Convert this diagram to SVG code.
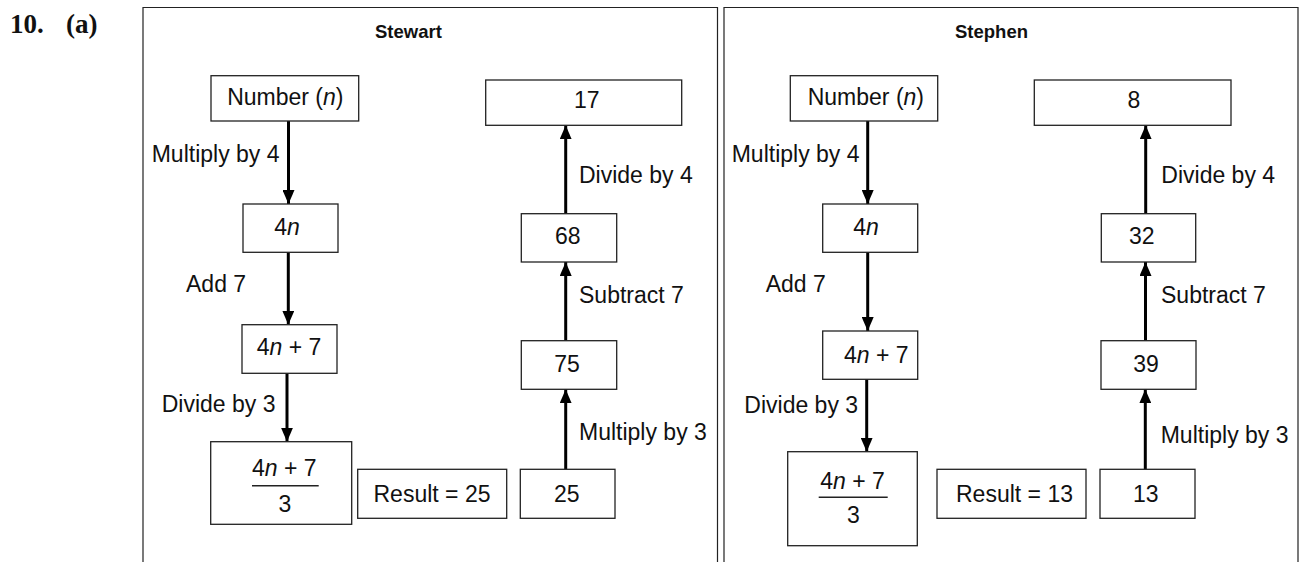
<svg xmlns="http://www.w3.org/2000/svg" width="1302" height="562" viewBox="0 0 1302 562">
  <style>
    .frame { fill: none; stroke: #222; stroke-width: 1.2; }
    .box { fill: #fff; stroke: #222; stroke-width: 1.3; }
    .t { font-family: "Liberation Sans", Arial, sans-serif; font-size: 23px; fill: #111; }
    .c { text-anchor: middle; }
    .title { font-family: "Liberation Sans", Arial, sans-serif; font-size: 18.5px; font-weight: bold; fill: #111; }
    .q { font-family: "Liberation Serif", "Times New Roman", serif; font-size: 27px; font-weight: bold; fill: #111; }
    .arrow { stroke: #000; stroke-width: 3; fill: none; marker-end: url(#head); }
    .bar { stroke: #222; stroke-width: 1.4; }
  </style>
  <defs>
    <marker id="head" markerUnits="userSpaceOnUse" markerWidth="14" markerHeight="12" refX="14" refY="6" orient="auto">
      <path d="M0,0 L14,6 L0,12 Z" fill="#000"/>
    </marker>
  </defs>
  <rect width="1302" height="562" fill="#fff"/>

  <!-- question label -->
  <text class="q" x="10" y="33">10.</text>
  <text class="q" x="66" y="33">(a)</text>

  <!-- panel frames -->
  <path class="frame" d="M143,562 V7.5 H717.5 V562"/>
  <path class="frame" d="M724,562 V7.5 H1298 V562"/>
  <text class="title" x="375" y="38.3">Stewart</text>
  <text class="title" x="955" y="38.3">Stephen</text>

  <!-- connectors -->
  <g id="connectors">
    <line class="arrow" x1="288.5" y1="121" x2="288.5" y2="204"/>
    <line class="arrow" x1="288.3" y1="252.3" x2="288.3" y2="324.7"/>
    <line class="arrow" x1="287" y1="373.3" x2="287" y2="441.7"/>
    <line class="arrow" x1="565.7" y1="469.3" x2="565.7" y2="389.3"/>
    <line class="arrow" x1="565.7" y1="340.7" x2="565.7" y2="262"/>
    <line class="arrow" x1="565.7" y1="213.7" x2="565.7" y2="125.3"/>

    <line class="arrow" x1="867.7" y1="121" x2="867.7" y2="204"/>
    <line class="arrow" x1="867.7" y1="252.3" x2="867.7" y2="331"/>
    <line class="arrow" x1="866.7" y1="379.3" x2="866.7" y2="451.7"/>
    <line class="arrow" x1="1145.3" y1="469.3" x2="1145.3" y2="389.3"/>
    <line class="arrow" x1="1145.5" y1="340.7" x2="1145.5" y2="262"/>
    <line class="arrow" x1="1145.7" y1="213.7" x2="1145.7" y2="125.3"/>
  </g>

  <!-- connector labels -->
  <g id="labels">
    <text class="t" x="151.7" y="161.7">Multiply by 4</text>
    <text class="t" x="186" y="291.7">Add 7</text>
    <text class="t" x="161.7" y="411.7">Divide by 3</text>
    <text class="t" x="579" y="440">Multiply by 3</text>
    <text class="t" x="579" y="303.3">Subtract 7</text>
    <text class="t" x="579" y="182.7">Divide by 4</text>

    <text class="t" x="731.7" y="161.7">Multiply by 4</text>
    <text class="t" x="765.7" y="291.7">Add 7</text>
    <text class="t" x="744.3" y="413.3">Divide by 3</text>
    <text class="t" x="1160.7" y="443.3">Multiply by 3</text>
    <text class="t" x="1161" y="303.3">Subtract 7</text>
    <text class="t" x="1161.3" y="182.7">Divide by 4</text>
  </g>

  <!-- Stewart nodes -->
  <g id="sw-number">
    <rect class="box" x="211" y="75.7" width="147.7" height="45.3"/>
    <text class="t c" x="285.3" y="105">Number (<tspan font-style="italic">n</tspan>)</text>
  </g>
  <g id="sw-4n">
    <rect class="box" x="243" y="204" width="95" height="48.3"/>
    <text class="t c" x="287" y="235">4<tspan font-style="italic">n</tspan></text>
  </g>
  <g id="sw-4n7">
    <rect class="box" x="242" y="324.7" width="95" height="48.6"/>
    <text class="t c" x="289" y="355">4<tspan font-style="italic">n</tspan> + 7</text>
  </g>
  <g id="sw-fraction">
    <rect class="box" x="210.7" y="441.7" width="141" height="82.6"/>
    <text class="t c" x="284.3" y="476">4<tspan font-style="italic">n</tspan> + 7</text>
    <line class="bar" x1="252" y1="485.7" x2="318.7" y2="485.7"/>
    <text class="t c" x="285" y="511.7">3</text>
  </g>
  <g id="sw-result">
    <rect class="box" x="357.7" y="469.3" width="149" height="49"/>
    <text class="t c" x="432" y="501.7">Result = 25</text>
  </g>
  <g id="sw-25">
    <rect class="box" x="520.3" y="469.3" width="94.7" height="49"/>
    <text class="t c" x="566.7" y="501.7">25</text>
  </g>
  <g id="sw-75">
    <rect class="box" x="521.3" y="340.7" width="95.4" height="48.6"/>
    <text class="t c" x="567" y="371.7">75</text>
  </g>
  <g id="sw-68">
    <rect class="box" x="521.3" y="213.7" width="95.4" height="48.3"/>
    <text class="t c" x="567.7" y="244.3">68</text>
  </g>
  <g id="sw-17">
    <rect class="box" x="485.7" y="80" width="196" height="45.3"/>
    <text class="t c" x="586.7" y="108.3">17</text>
  </g>

  <!-- Stephen nodes -->
  <g id="sp-number">
    <rect class="box" x="790.3" y="75.7" width="147.4" height="45.3"/>
    <text class="t" x="807.7" y="105">Number (<tspan font-style="italic">n</tspan>)</text>
  </g>
  <g id="sp-4n">
    <rect class="box" x="822.7" y="204" width="95" height="48.3"/>
    <text class="t c" x="866" y="235">4<tspan font-style="italic">n</tspan></text>
  </g>
  <g id="sp-4n7">
    <rect class="box" x="822.7" y="331" width="95" height="48.3"/>
    <text class="t" x="844" y="362.7">4<tspan font-style="italic">n</tspan> + 7</text>
  </g>
  <g id="sp-fraction">
    <rect class="box" x="787.7" y="451.7" width="129.6" height="94"/>
    <text class="t c" x="852.5" y="489.3">4<tspan font-style="italic">n</tspan> + 7</text>
    <line class="bar" x1="818.7" y1="497.3" x2="887.7" y2="497.3"/>
    <text class="t c" x="853.3" y="523.3">3</text>
  </g>
  <g id="sp-result">
    <rect class="box" x="937" y="469.3" width="149" height="49"/>
    <text class="t" x="956" y="501.7">Result = 13</text>
  </g>
  <g id="sp-13">
    <rect class="box" x="1100" y="469.3" width="95" height="49"/>
    <text class="t c" x="1145.7" y="501.7">13</text>
  </g>
  <g id="sp-39">
    <rect class="box" x="1101" y="340.7" width="95" height="48.6"/>
    <text class="t c" x="1146" y="371.7">39</text>
  </g>
  <g id="sp-32">
    <rect class="box" x="1101.3" y="213.7" width="94.4" height="48.3"/>
    <text class="t c" x="1141.7" y="244.3">32</text>
  </g>
  <g id="sp-8">
    <rect class="box" x="1034.3" y="80" width="196.7" height="45.3"/>
    <text class="t c" x="1134" y="108.3">8</text>
  </g>
</svg>
